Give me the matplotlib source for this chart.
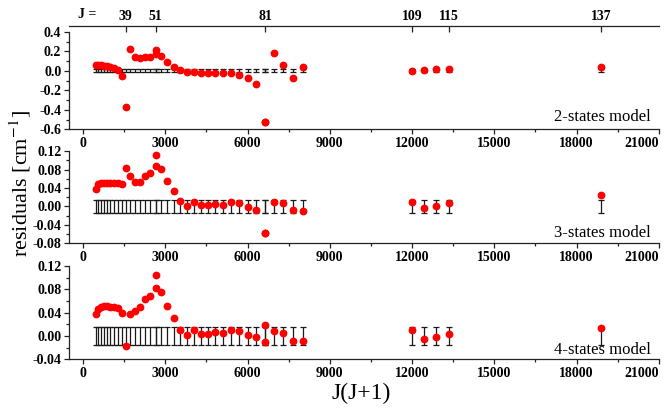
import matplotlib
matplotlib.use("Agg")
import matplotlib.pyplot as plt
import numpy as np
from matplotlib.ticker import MultipleLocator, FormatStrFormatter

plt.rcParams["font.family"] = ["Liberation Serif", "DejaVu Serif"]
plt.rcParams["axes.unicode_minus"] = False
plt.rcParams["mathtext.fontset"] = "stix"

# rotational quantum numbers (51 and 81 appear twice)
J = [21, 23, 25, 27, 29, 31, 33, 35, 37, 39, 41, 43, 45, 47, 49, 51, 51, 53, 55,
     57, 59, 61, 63, 65, 67, 69, 71, 73, 75, 77, 79, 81, 81, 83, 85, 87, 89,
     109, 111, 113, 115, 137]

res_2states = [0.055, 0.056, 0.055, 0.053, 0.048, 0.040, 0.028, 0.012, -0.055,
               -0.37, 0.22, 0.144, 0.127, 0.137, 0.14, 0.212, 0.168, 0.151, 0.089,
               0.041, 0.007, -0.017, -0.015, -0.02, -0.02, -0.025, -0.025, -0.025,
               -0.045, -0.075, -0.13, -0.52, -0.52, 0.18, 0.06, -0.07, 0.035,
               -0.005, 0.01, 0.02, 0.02, 0.04]

res_3states = [0.038, 0.048, 0.050, 0.052, 0.052, 0.051, 0.050, 0.050, 0.049,
               0.084, 0.067, 0.053, 0.053, 0.066, 0.073, 0.112, 0.087, 0.081, 0.055,
               0.034, 0.012, 0.001, 0.010, 0.003, 0.003, 0.005, 0.003, 0.010,
               0.007, -0.002, -0.008, -0.058, -0.058, 0.009, 0.007, -0.007, -0.009,
               0.010, -0.004, 0.001, 0.007, 0.025]

res_4states = [0.038, 0.047, 0.050, 0.051, 0.051, 0.050, 0.0497, 0.048, 0.039,
               -0.018, 0.038, 0.043, 0.049, 0.063, 0.069, 0.105, 0.083, 0.075, 0.051,
               0.031, 0.011, 0.001, 0.010, 0.0035, 0.003, 0.006, 0.0045, 0.011,
               0.008, 0.002, -0.001, 0.019, -0.010, 0.009, 0.005, -0.008, -0.009,
               0.010, -0.006, -0.001, 0.003, 0.013]

# experimental uncertainty shown around zero
err_2states = 0.015
err_3states = 0.015
err_4states = 0.015

J_top = [39, 51, 81, 109, 115, 137]
x_ticks = [0, 3000, 6000, 9000, 12000, 15000, 18000, 21000]

x = np.array(J) * (np.array(J) + 1)

fig = plt.figure(figsize=(6.68, 4.08), dpi=100)

panels = [
    (res_2states, err_2states, [0.1033, 0.683, 0.883, 0.239], (-0.6, 0.4), 0.2, "%.1f", "2-states model", 0.126),
    (res_3states, err_3states, [0.1033, 0.4037, 0.883, 0.2255], (-0.08, 0.12), 0.04, "%.2f", "3-states model", 0.112),
    (res_4states, err_4states, [0.1033, 0.1194, 0.883, 0.2287], (-0.04, 0.12), 0.04, "%.2f", "4-states model", 0.10),
]

axes = []
for res, err, pos, ylim, step, fmt, label, ly in panels:
    ax = fig.add_axes(pos)
    ax.errorbar(x, np.zeros(len(x)), yerr=err, fmt="none", ecolor="#1a1a1a",
                elinewidth=0.9, capsize=2.2, capthick=0.9, zorder=2)
    ax.plot(x, res, "o", color="red", ms=4.6, mec="red", zorder=3)
    ax.set_xlim(-510, 21000)
    ax.set_ylim(*ylim)
    ax.set_xticks(x_ticks)
    ax.set_xticklabels([str(v) for v in x_ticks])
    ax.xaxis.set_minor_locator(MultipleLocator(1500))
    ax.yaxis.set_major_locator(MultipleLocator(step))
    ax.yaxis.set_minor_locator(MultipleLocator(step / 2))
    ax.yaxis.set_major_formatter(FormatStrFormatter(fmt))
    ax.spines["top"].set_visible(False)
    ax.spines["right"].set_visible(False)
    for s in ["left", "bottom"]:
        ax.spines[s].set_linewidth(0.9)
        ax.spines[s].set_color("#222222")
    ax.tick_params(which="both", direction="out", color="#222222", width=0.9)
    ax.tick_params(which="major", length=3.5, pad=2, labelsize=10)
    ax.tick_params(which="minor", length=2)
    for t in ax.get_xticklabels() + ax.get_yticklabels():
        t.set_fontweight("bold")
    # keep the last label inside the figure
    ax.xaxis.get_major_ticks()[-1].label1.set_horizontalalignment("right")
    ax.text(0.986, ly, label, transform=ax.transAxes, ha="right", va="center",
            fontsize=12)
    axes.append(ax)

# J scale on top of first panel
top = axes[0].twiny()
top.set_xlim(axes[0].get_xlim())
top.set_xticks([j * (j + 1) for j in J_top])
top.set_xticklabels([str(j) for j in J_top])
for s in ["left", "right", "bottom"]:
    top.spines[s].set_visible(False)
top.spines["top"].set_position(("outward", 4))
top.spines["top"].set_linewidth(0.9)
top.spines["top"].set_color("#222222")
top.tick_params(axis="x", direction="in", length=4, width=0.9, pad=2, labelsize=10,
                color="#222222")
for t in top.get_xticklabels():
    t.set_fontweight("bold")
fig.text(87 / 668, 1 - 15 / 408, "J =", ha="center", va="center", fontsize=10,
         fontweight="bold")

fig.text(20 / 668, 0.55, "residuals [cm$^{-1}$]", rotation=90, ha="center",
         va="center", fontsize=16)
fig.text(361 / 668, 1 - 393 / 408, "J(J+1)", ha="center", va="center", fontsize=17)

plt.savefig("out.png", dpi=100)
plt.close()
